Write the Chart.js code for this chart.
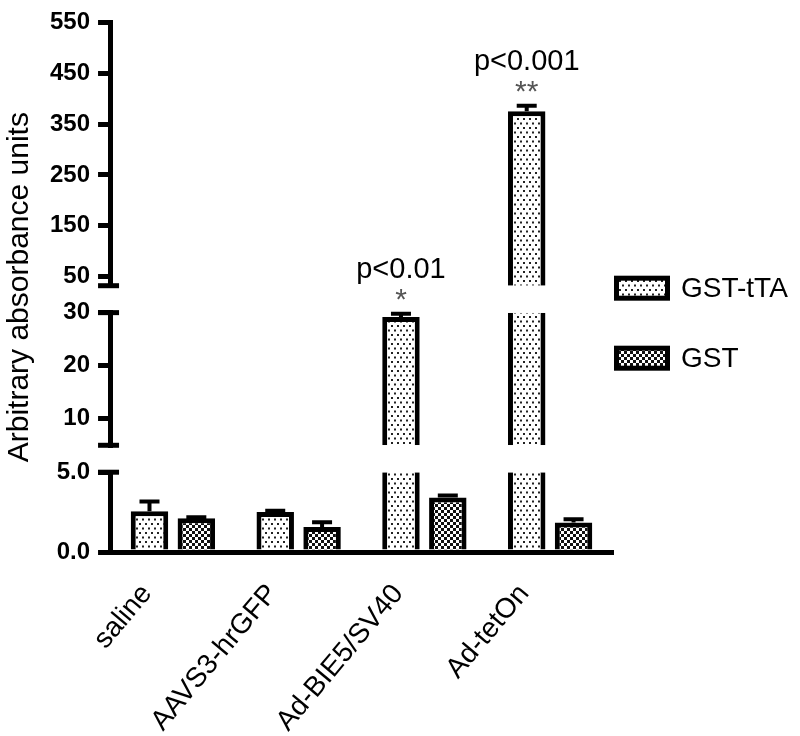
<!DOCTYPE html>
<html>
<head>
<meta charset="utf-8">
<script src="https://cdn.jsdelivr.net/npm/chart.js@4.4.0/dist/chart.umd.min.js"></script>
<style>
  html, body { margin: 0; padding: 0; background: #fff; }
  #wrap { width: 800px; height: 736px; }
</style>
</head>
<body>
<div id="wrap"><canvas id="chartGst"></canvas></div>
<script>
// values
var categories = ['saline', 'AAVS3-hrGFP', 'Ad-BIE5/SV40', 'Ad-tetOn'];
var seriesNames = ['GST-tTA', 'GST'];
var gstTtaValues = [2.56, 2.5, 29.2, 375];
var gstTtaErrors = [0.6, 0.08, 0.6, 11];
var gstValues = [2.12, 1.56, 3.42, 1.85];
var gstErrors = [0.05, 0.3, 0.12, 0.2];
var pLabels = ['', '', 'p<0.01', 'p<0.001'];
var starLabels = ['', '', '*', '**'];

// broken y axis, three pieces
var lowTicks = [0, 2.5, 5];
var midTicks = [10, 20, 30];
var topTicks = [50, 150, 250, 350, 450, 550];

var segments = [
    { id: 'yLow', min: 0, max: 5, ticks: lowTicks },
    { id: 'yMid', min: 5, max: 30, ticks: midTicks },
    { id: 'yTop', min: 32, max: 550, ticks: topTicks }
];

var FONT = "'Liberation Sans', Arial, sans-serif";
Chart.defaults.font.family = FONT;
Chart.defaults.color = '#000';

var canvas = document.getElementById('chartGst');
var ctx0 = canvas.getContext('2d');

// fill patterns
function dotPattern() {
    var c = document.createElement('canvas');
    c.width = 6; c.height = 9;
    var g = c.getContext('2d');
    g.fillStyle = '#fff'; g.fillRect(0, 0, 6, 9);
    g.fillStyle = '#222';
    g.fillRect(1, 1, 2, 2);
    g.fillRect(4, 5.5, 2, 2);
    return ctx0.createPattern(c, 'repeat');
}
function checkPattern() {
    var c = document.createElement('canvas');
    c.width = 6; c.height = 6;
    var g = c.getContext('2d');
    g.fillStyle = '#111'; g.fillRect(0, 0, 6, 6);
    g.fillStyle = '#fff';
    g.fillRect(0, 0, 3, 3);
    g.fillRect(3, 3, 3, 3);
    return ctx0.createPattern(c, 'repeat');
}

var series = [
    { name: seriesNames[0], values: gstTtaValues, errors: gstTtaErrors, fill: dotPattern() },
    { name: seriesNames[1], values: gstValues, errors: gstErrors, fill: checkPattern() }
];

// one dataset per series per axis piece, the pieces share one bar slot
var datasets = [];
series.forEach(function(s, si) {
    segments.forEach(function(seg) {
        datasets.push({
            label: s.name,
            data: s.values.map(function(v) {
                if (v <= seg.min) return null;
                var hi = Math.min(v, seg.max);
                return seg.min === 0 ? hi : [seg.min, hi];
            }),
            yAxisID: seg.id,
            stack: 'slot' + si,
            backgroundColor: s.fill,
            borderColor: '#000',
            borderSkipped: false,
            borderWidth: function(c) {
                var v = s.values[c.dataIndex];
                if (v === undefined || v <= seg.min) return 0;
                return { top: v > seg.max ? 0 : 5, left: 5, right: 5, bottom: 0 };
            },
            barPercentage: 0.8,
            categoryPercentage: 0.745
        });
    });
});

function segIndexFor(val) {
    var k = 0;
    segments.forEach(function(seg, i) { if (val > seg.min) k = i; });
    return k;
}

function yPiece(seg, weight, stackWeight) {
    return {
        type: 'linear',
        position: 'left',
        stack: 'broken',
        stackWeight: stackWeight,
        weight: weight,
        min: seg.min,
        max: seg.max,
        afterBuildTicks: function(axis) {
            axis.ticks = seg.ticks.map(function(v) { return { value: v }; });
        },
        grid: { drawOnChartArea: false, color: '#000', lineWidth: 5, tickLength: 12 },
        border: { color: '#000', width: 5 },
        ticks: {
            color: '#000',
            padding: 8,
            font: { size: 24, weight: 'bold' },
            callback: function(v) { return seg.min === 0 ? Number(v).toFixed(1) : v; }
        }
    };
}
function yGap(weight, stackWeight) {
    return { type: 'linear', position: 'left', stack: 'broken', stackWeight: stackWeight,
             weight: weight, display: false, min: 0, max: 1 };
}

// error bars and p-value notes
var errorBars = {
    id: 'errorBars',
    afterDatasetsDraw: function(chart) {
        var ctx = chart.ctx;
        ctx.save();
        ctx.strokeStyle = '#000';
        ctx.lineWidth = 4;
        series.forEach(function(s, si) {
            s.values.forEach(function(v, i) {
                var hi = v + s.errors[i];
                var k = segIndexFor(hi);
                var seg = segments[k];
                var scale = chart.scales[seg.id];
                var bar = chart.getDatasetMeta(si * segments.length + k).data[i];
                var x = bar.x;
                var y0 = scale.getPixelForValue(Math.max(v, seg.min));
                var y1 = scale.getPixelForValue(hi);
                ctx.beginPath();
                ctx.moveTo(x, y0); ctx.lineTo(x, y1);
                ctx.moveTo(x - 10, y1); ctx.lineTo(x + 10, y1);
                ctx.stroke();

                if (si === 0 && pLabels[i]) {
                    ctx.fillStyle = '#000';
                    ctx.textAlign = 'center';
                    ctx.textBaseline = 'alphabetic';
                    ctx.font = '29px ' + FONT;
                    ctx.fillText(pLabels[i], x, y1 - 36);
                    ctx.fillStyle = '#555';
                    ctx.font = '30px ' + FONT;
                    var m = ctx.measureText(starLabels[i]);
                    var cy = y1 - 19;
                    ctx.fillText(starLabels[i], x, cy + (m.actualBoundingBoxAscent - m.actualBoundingBoxDescent) / 2);
                }
            });
        });
        ctx.restore();
    }
};

// caps at the ends of each axis piece where it is broken
var breakCaps = {
    id: 'breakCaps',
    afterDraw: function(chart) {
        var ctx = chart.ctx;
        ctx.save();
        ctx.strokeStyle = '#000';
        ctx.lineWidth = 5;
        segments.forEach(function(seg, i) {
            var sc = chart.scales[seg.id];
            var ends = [];
            if (i > 0) ends.push(seg.min);
            if (i < segments.length - 1) ends.push(seg.max);
            ends.forEach(function(v) {
                var y = sc.getPixelForValue(v);
                ctx.beginPath();
                ctx.moveTo(sc.right - 12, y);
                ctx.lineTo(sc.right + 9, y);
                ctx.stroke();
            });
        });
        ctx.restore();
    }
};

// legend at the right side
var sideLegend = {
    id: 'sideLegend',
    afterDraw: function(chart) {
        var ctx = chart.ctx;
        var area = chart.chartArea;
        var midY = (area.top + area.bottom) / 2;
        ctx.save();
        series.forEach(function(s, i) {
            var cy = midY + 1 + i * 70;
            var x = area.right + 1;
            ctx.fillStyle = '#000';
            ctx.fillRect(x, cy - 12.5, 56, 25);
            ctx.fillStyle = s.fill;
            ctx.fillRect(x + 5, cy - 7.5, 46, 15);
            ctx.fillStyle = '#000';
            ctx.font = '28px ' + FONT;
            ctx.textAlign = 'left';
            ctx.textBaseline = 'middle';
            ctx.fillText(s.name, x + 67, cy + 1);
        });
        ctx.restore();
    }
};

new Chart(canvas, {
    type: 'bar',
    data: { labels: categories, datasets: datasets },
    options: {
        responsive: true,
        maintainAspectRatio: false,
        animation: false,
        layout: { padding: { top: 21, right: 187, bottom: 0, left: 0 } },
        plugins: {
            legend: { display: false },
            tooltip: { enabled: false }
        },
        scales: {
            x: {
                type: 'category',
                offset: true,
                grid: { display: false, drawTicks: false },
                border: { color: '#000', width: 5 },
                afterFit: function(axis) { axis.height = 184; },
                ticks: {
                    color: '#000',
                    minRotation: 50,
                    maxRotation: 50,
                    padding: 26,
                    labelOffset: -26,
                    font: { size: 28 }
                }
            },
            yTitle: {
                type: 'linear',
                position: 'left',
                weight: 10,
                min: 0,
                max: 1,
                grid: { display: false, drawTicks: false },
                border: { display: false },
                ticks: { display: false },
                title: {
                    display: true,
                    text: 'Arbitrary absorbance units',
                    color: '#000',
                    font: { size: 30 },
                    padding: { top: 2, bottom: 4 }
                }
            },
            yTop: yPiece(segments[2], 5, 264),
            gapTop: yGap(4, 27),
            yMid: yPiece(segments[1], 3, 133),
            gapLow: yGap(2, 27),
            yLow: yPiece(segments[0], 1, 80)
        }
    },
    plugins: [errorBars, breakCaps, sideLegend]
});
</script>
</body>
</html>
